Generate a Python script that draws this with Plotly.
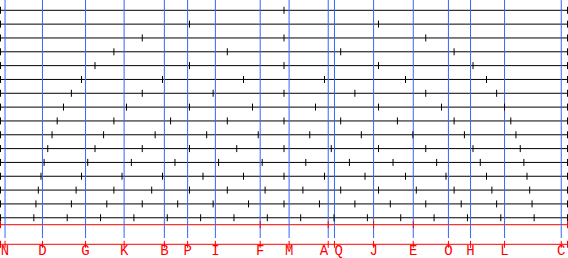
import plotly.graph_objects as go

# ---- data ----
divisions = list(range(2, 18))  # each row splits the span into n equal parts
note_labels = ["N", "D", "G", "K", "B", "P", "I", "F", "M", "A", "Q", "J", "E", "O", "H", "L", "C"]
note_values = [0.008, 0.074, 0.150, 0.218, 0.289, 0.330, 0.379, 0.458, 0.509, 0.578,
               0.589, 0.658, 0.728, 0.790, 0.829, 0.889, 0.989]
red_marks = [0.0, 0.458, 0.578, 0.658, 0.728, 1.0]

# ---- layout constants (pixels) ----
W, H = 568, 258
row_top, row_step = 10.3, 13.83
red_y = 224.7
axis_y = 244.3
label_y = 251.5
blue_top, blue_bot = 0.0, 238.0
BLACK = "#000000"
BLUE = "#3366ff"
RED = "#ff0000"

fig = go.Figure()

# row lines
lx, ly = [], []
tx, ty = [], []
for i, n in enumerate(divisions):
    y = row_top + i * row_step
    lx += [0, 1, None]
    ly += [y, y, None]
    for k in range(n + 1):
        tx.append(k / n)
        ty.append(y)
fig.add_trace(go.Scatter(x=lx, y=ly, mode="lines", line=dict(color=BLACK, width=1),
                         hoverinfo="skip"))

# red reference line
fig.add_trace(go.Scatter(x=[0, 1], y=[red_y, red_y], mode="lines",
                         line=dict(color=RED, width=1), hoverinfo="skip"))
# bottom axis line
fig.add_trace(go.Scatter(x=[0, 1], y=[axis_y, axis_y], mode="lines",
                         line=dict(color=RED, width=1), hoverinfo="skip"))

# blue note lines
bx, by = [], []
for v in note_values:
    bx += [v, v, None]
    by += [blue_top, blue_bot, None]
fig.add_trace(go.Scatter(x=bx, y=by, mode="lines", line=dict(color=BLUE, width=1),
                         hoverinfo="skip"))

# row ticks
fig.add_trace(go.Scatter(x=tx, y=ty, mode="markers",
                         marker=dict(symbol="line-ns", size=5,
                                     line=dict(color=BLACK, width=1)),
                         hoverinfo="skip"))
# red line ticks
fig.add_trace(go.Scatter(x=red_marks, y=[red_y] * len(red_marks), mode="markers",
                         marker=dict(symbol="line-ns", size=5,
                                     line=dict(color=RED, width=1)),
                         hoverinfo="skip"))
# axis ticks
ax_ticks = [0.0] + note_values + [1.0]
fig.add_trace(go.Scatter(x=ax_ticks, y=[axis_y] * len(ax_ticks), mode="markers",
                         marker=dict(symbol="line-ns", size=5,
                                     line=dict(color=RED, width=1)),
                         hoverinfo="skip"))
# labels (nudge the two crowded ones apart)
positions = []
for lab in note_labels:
    if lab == "A":
        positions.append("middle left")
    elif lab == "Q":
        positions.append("middle right")
    else:
        positions.append("middle center")
fig.add_trace(go.Scatter(x=note_values, y=[label_y] * len(note_values), mode="text",
                         text=note_labels, textposition=positions,
                         textfont=dict(family="Liberation Mono", size=14, color=RED),
                         hoverinfo="skip", cliponaxis=False))

pad = 0.5 / 567
fig.update_layout(
    width=W, height=H,
    margin=dict(l=0, r=0, t=0, b=0),
    paper_bgcolor="white", plot_bgcolor="white",
    showlegend=False,
    xaxis=dict(range=[-pad, 1 + pad], visible=False, fixedrange=True),
    yaxis=dict(range=[H, 0], visible=False, fixedrange=True),
)

fig.write_html("out.html")
